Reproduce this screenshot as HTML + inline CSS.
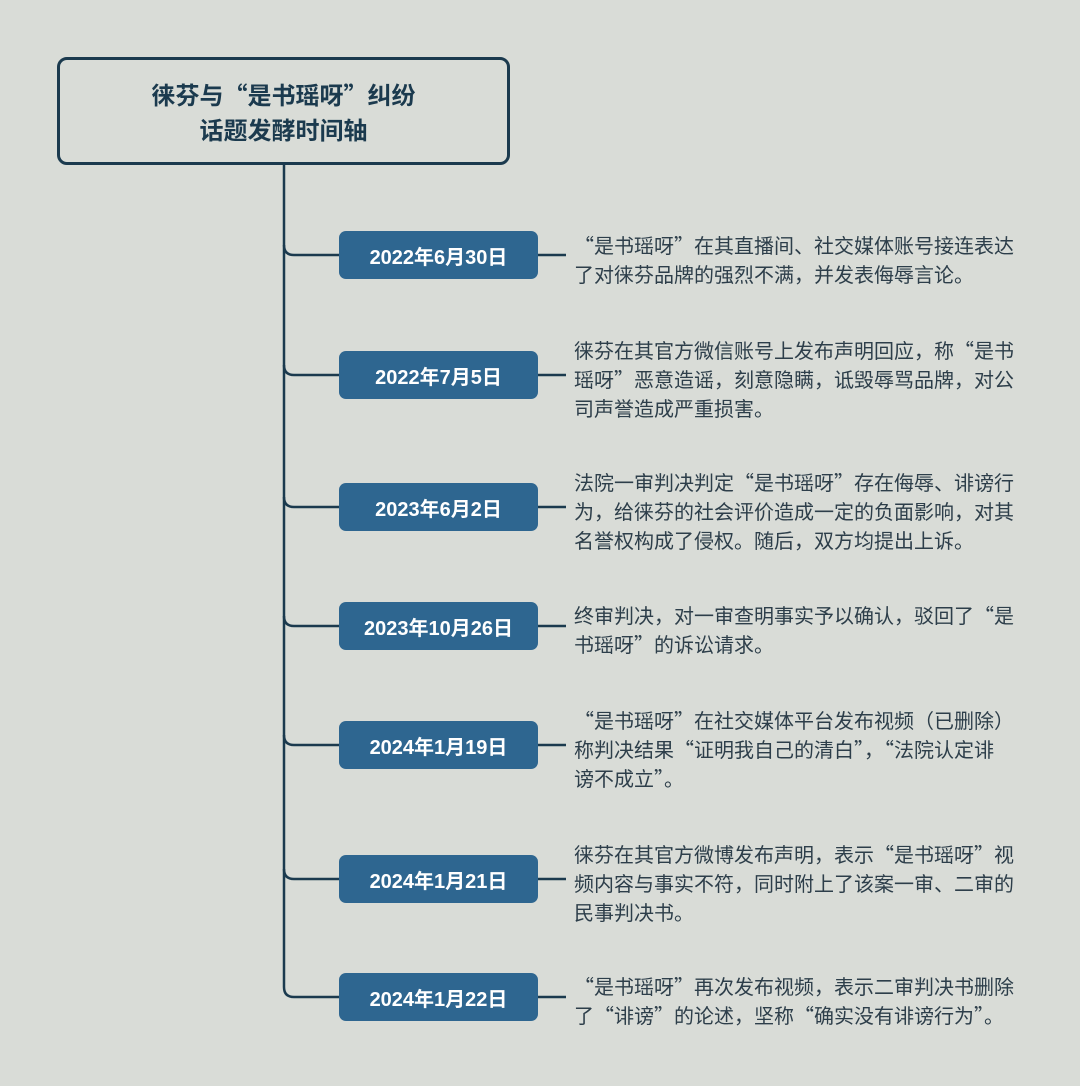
<!DOCTYPE html>
<html><head><meta charset="utf-8"><style>
body{margin:0;width:1080px;height:1086px;background:#d9dcd7;position:relative;overflow:hidden;font-family:"Noto Sans CJK SC","Liberation Sans",sans-serif}
.title{position:absolute;left:57px;top:57px;width:447px;height:102px;border:3px solid #1b3a4e;border-radius:10px;box-sizing:content-box;display:flex;flex-direction:column;justify-content:center;align-items:center;font-weight:bold;font-size:24px;color:#1b3a4e;line-height:35px}
.node{position:absolute;left:339px;width:199px;height:48px;background:#2e6690;border-radius:7px;color:#fff;font-weight:bold;font-size:20px;display:flex;align-items:center;justify-content:center;font-family:"Liberation Sans","Noto Sans CJK SC",sans-serif}
.txt{position:absolute;left:574px;font-size:20px;line-height:29px;color:#2d3e4a;white-space:nowrap}
svg{position:absolute;left:0;top:0}
</style></head><body>
<svg width="1080" height="1086">
<g fill="none" stroke="#1b3a4e" stroke-width="2.5">
<path d="M284 165 V987 Q284 997 294 997 H339"/>
<path d="M284 245 Q284 255 294 255 H339"/>
<path d="M284 365 Q284 375 294 375 H339"/>
<path d="M284 497 Q284 507 294 507 H339"/>
<path d="M284 616 Q284 626 294 626 H339"/>
<path d="M284 735 Q284 745 294 745 H339"/>
<path d="M284 869 Q284 879 294 879 H339"/>
<path d="M538 255H566M538 375H566M538 507H566M538 626H566M538 745H566M538 879H566M538 997H566"/>
</g></svg>
<div class="title"><div>徕芬与“是书瑶呀”纠纷</div><div>话题发酵时间轴</div></div>
<div class="node" style="top:231px">2022年6月30日</div>
<div class="node" style="top:351px">2022年7月5日</div>
<div class="node" style="top:483px">2023年6月2日</div>
<div class="node" style="top:602px">2023年10月26日</div>
<div class="node" style="top:721px">2024年1月19日</div>
<div class="node" style="top:855px">2024年1月21日</div>
<div class="node" style="top:973px">2024年1月22日</div>
<div class="txt" style="top:230px">“是书瑶呀”在其直播间、社交媒体账号接连表达<br>了对徕芬品牌的强烈不满，并发表侮辱言论。</div>
<div class="txt" style="top:335px">徕芬在其官方微信账号上发布声明回应，称“是书<br>瑶呀”恶意造谣，刻意隐瞒，诋毁辱骂品牌，对公<br>司声誉造成严重损害。</div>
<div class="txt" style="top:467px">法院一审判决判定“是书瑶呀”存在侮辱、诽谤行<br>为，给徕芬的社会评价造成一定的负面影响，对其<br>名誉权构成了侵权。随后，双方均提出上诉。</div>
<div class="txt" style="top:600px">终审判决，对一审查明事实予以确认，驳回了“是<br>书瑶呀”的诉讼请求。</div>
<div class="txt" style="top:705px">“是书瑶呀”在社交媒体平台发布视频（已删除）<br>称判决结果“证明我自己的清白”，“法院认定诽<br>谤不成立”。</div>
<div class="txt" style="top:839px">徕芬在其官方微博发布声明，表示“是书瑶呀”视<br>频内容与事实不符，同时附上了该案一审、二审的<br>民事判决书。</div>
<div class="txt" style="top:971px">“是书瑶呀”再次发布视频，表示二审判决书删除<br>了“诽谤”的论述，坚称“确实没有诽谤行为”。</div>
</body></html>
